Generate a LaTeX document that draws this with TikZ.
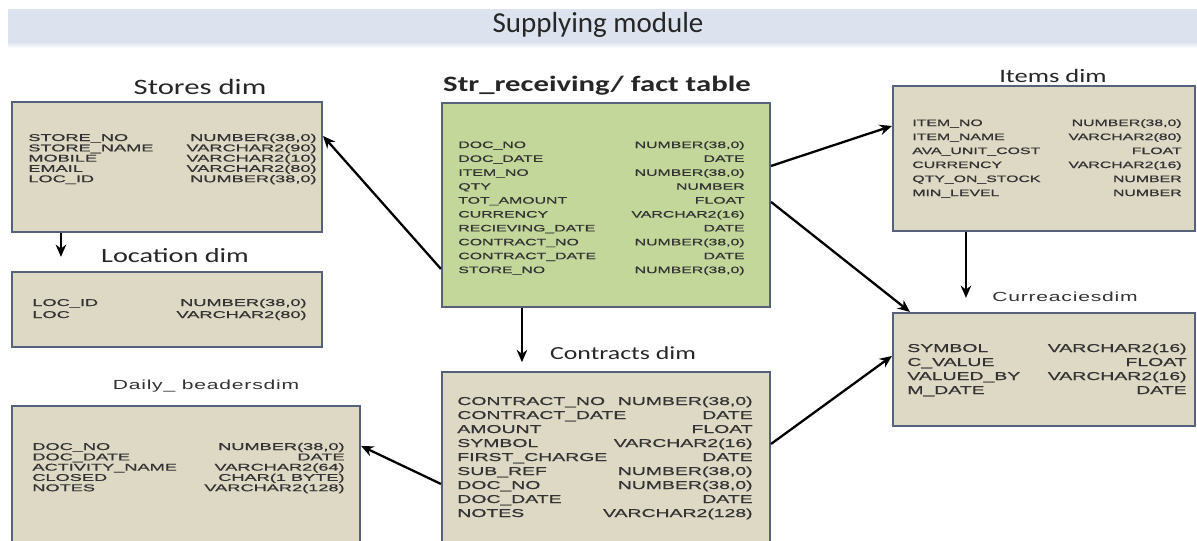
\documentclass[tikz,border=0pt]{standalone}
\usepackage{fontspec}
\setmainfont{Carlito}
\newfontfamily\headFont[FakeStretch=1.4]{Carlito}
\newfontfamily\labelFont[FakeStretch=1.6,LetterSpace=6]{Liberation Sans}
\newfontfamily\fieldFont[FakeStretch=1.85,FakeBold=0.8]{Liberation Sans}
\newfontfamily\factFont[FakeStretch=1.7,FakeBold=0.8]{Liberation Sans}
\usetikzlibrary{calc, fit, arrows.meta}

\begin{document}
\begin{tikzpicture}[x=0.02cm, y=-0.02cm,
    dimbox/.style={draw=borderColour, fill=dimColour, line width=1.2pt, inner sep=0pt},
    factbox/.style={dimbox, fill=factColour},
    field/.style={inner sep=0pt, text=black!80, font=\fieldFont\fontsize{5.6}{6}\selectfont},
    factfield/.style={inner sep=0pt, text=black!80, font=\factFont\fontsize{5.3}{6}\selectfont},
    bigfield/.style={inner sep=0pt, text=black!80, font=\factFont\fontsize{6.5}{7}\selectfont},
    heading/.style={inner sep=0pt, text=black!85, font=\headFont\fontsize{#1}{14}\selectfont},
    smallheading/.style={inner sep=0pt, text=black!80, font=\labelFont\fontsize{7.5}{9}\selectfont},
    link/.style={-{Stealth[length=7pt,width=6pt]}, line width=1.3pt}]
    % Define colours
    \definecolor{borderColour}{HTML}{55627A}
    \definecolor{dimColour}{HTML}{DDD9C4}
    \definecolor{factColour}{HTML}{C4D79B}
    \definecolor{titleColour}{HTML}{DCE3EF}

  \useasboundingbox (0,0) rectangle (1197,541);

  % Title bar
  \fill[titleColour] (8,9) rectangle (1197,42);
  \shade[top color=titleColour, bottom color=white] (8,42) rectangle (1197,48);
  \node[inner sep=0pt, text=black!85, font=\fontsize{16.5}{18}\selectfont] (title) at (598,25) {Supplying module};

  % Tables
  \node[dimbox, fit={(12,102) (322,232)}] (stores) {};
  \node[dimbox, fit={(12,272) (322,347)}] (location) {};
  \node[dimbox, fit={(12,406) (360,548)}] (daily) {};
  \node[factbox, fit={(442,103) (770,307)}] (fact) {};
  \node[dimbox, fit={(442,372) (770,548)}] (contracts) {};
  \node[dimbox, fit={(893,86) (1195,231)}] (items) {};
  \node[dimbox, fit={(893,313) (1195,426)}] (currencies) {};

  % Table headings
  \node[heading=12.5] (storesTitle) at (200,87) {Stores dim};
  \node[heading=11.5] (locationTitle) at (175,256) {Location dim};
  \node[smallheading] (dailyTitle) at (206,386) {Daily\_ beadersdim};
  \node[inner sep=0pt, text=black!85, font=\headFont\bfseries\fontsize{12.5}{14}\selectfont] (factTitle) at (597,86) {Str\_receiving/ fact table};
  \node[heading=10.5] (contractsTitle) at (623,353) {Contracts dim};
  \node[heading=10.8] (itemsTitle) at (1053,76) {Items dim};
  \node[smallheading] (currenciesTitle) at (1065,297) {Curreaciesdim};

  % Stores dim fields
  \foreach \f/\t [count=\i from 0] in {{STORE\_NO}/{NUMBER(38,0)}, {STORE\_NAME}/{VARCHAR2(90)},
      {MOBILE}/{VARCHAR2(10)}, {EMAIL}/{VARCHAR2(80)}, {LOC\_ID}/{NUMBER(38,0)}}{
    \node[field, anchor=base west] (storesF\i) at (28,141+10.3*\i) {\f};
    \node[field, anchor=base east] (storesT\i) at (317,141+10.3*\i) {\t};
  }

  % Location dim fields
  \foreach \f/\t [count=\i from 0] in {{LOC\_ID}/{NUMBER(38,0)}, {LOC}/{VARCHAR2(80)}}{
    \node[field, anchor=base west] (locationF\i) at (32,306+12*\i) {\f};
    \node[field, anchor=base east] (locationT\i) at (307,306+12*\i) {\t};
  }

  % Daily headers fields
  \foreach \f/\t [count=\i from 0] in {{DOC\_NO}/{NUMBER(38,0)}, {DOC\_DATE}/{DATE},
      {ACTIVITY\_NAME}/{VARCHAR2(64)}, {CLOSED}/{CHAR(1 BYTE)}, {NOTES}/{VARCHAR2(128)}}{
    \node[field, anchor=base west] (dailyF\i) at (32,450+10.3*\i) {\f};
    \node[field, anchor=base east] (dailyT\i) at (345,450+10.3*\i) {\t};
  }

  % Fact table fields
  \foreach \f/\t [count=\i from 0] in {{DOC\_NO}/{NUMBER(38,0)}, {DOC\_DATE}/{DATE},
      {ITEM\_NO}/{NUMBER(38,0)}, {QTY}/{NUMBER}, {TOT\_AMOUNT}/{FLOAT},
      {CURRENCY}/{VARCHAR2(16)}, {RECIEVING\_DATE}/{DATE}, {CONTRACT\_NO}/{NUMBER(38,0)},
      {CONTRACT\_DATE}/{DATE}, {STORE\_NO}/{NUMBER(38,0)}}{
    \node[factfield, anchor=base west] (factF\i) at (458,148+13.9*\i) {\f};
    \node[factfield, anchor=base east] (factT\i) at (745,148+13.9*\i) {\t};
  }

  % Contracts dim fields
  \foreach \f/\t [count=\i from 0] in {{CONTRACT\_NO}/{NUMBER(38,0)}, {CONTRACT\_DATE}/{DATE},
      {AMOUNT}/{FLOAT}, {SYMBOL}/{VARCHAR2(16)}, {FIRST\_CHARGE}/{DATE},
      {SUB\_REF}/{NUMBER(38,0)}, {DOC\_NO}/{NUMBER(38,0)}, {DOC\_DATE}/{DATE},
      {NOTES}/{VARCHAR2(128)}}{
    \node[bigfield, anchor=base west] (contractsF\i) at (457,405+14*\i) {\f};
    \node[bigfield, anchor=base east] (contractsT\i) at (753,405+14*\i) {\t};
  }

  % Items dim fields
  \foreach \f/\t [count=\i from 0] in {{ITEM\_NO}/{NUMBER(38,0)}, {ITEM\_NAME}/{VARCHAR2(80)},
      {AVA\_UNIT\_COST}/{FLOAT}, {CURRENCY}/{VARCHAR2(16)}, {QTY\_ON\_STOCK}/{NUMBER},
      {MIN\_LEVEL}/{NUMBER}}{
    \node[factfield, anchor=base west] (itemsF\i) at (912,126+14*\i) {\f};
    \node[factfield, anchor=base east] (itemsT\i) at (1182,126+14*\i) {\t};
  }

  % Currencies dim fields
  \foreach \f/\t [count=\i from 0] in {{SYMBOL}/{VARCHAR2(16)}, {C\_VALUE}/{FLOAT},
      {VALUED\_BY}/{VARCHAR2(16)}, {M\_DATE}/{DATE}}{
    \node[bigfield, anchor=base west] (currenciesF\i) at (907,352+14*\i) {\f};
    \node[bigfield, anchor=base east] (currenciesT\i) at (1187,352+14*\i) {\t};
  }

  % Connectors
  \coordinate (storesDown) at ($(stores.south west)+(50,0)$);
  \coordinate (factDown) at ($(fact.south west)+(81,0)$);
  \coordinate (itemsDown) at ($(items.south west)+(74,0)$);

  \draw[link] ($(fact.north west)+(0,167)$) -- ($(stores.north east)+(0,35)$);
  \draw[link, shorten >=8] (storesDown) -- (storesDown |- location.north);
  \draw[link] ($(fact.north east)+(0,64)$) -- ($(items.north west)+(0,41)$);
  \draw[link] ($(fact.north east)+(0,100)$) -- ($(currencies.north west)+(18,0)$);
  \draw[link, shorten >=5] (factDown) -- (factDown |- contracts.north);
  \draw[link, shorten >=8] (itemsDown) -- (itemsDown |- currencies.north);
  \draw[link] ($(contracts.north east)+(0,73)$) -- ($(currencies.north west)+(0,44)$);
  \draw[link] ($(contracts.north west)+(0,113)$) -- ($(daily.north east)+(0,41)$);

\end{tikzpicture}
\end{document}
